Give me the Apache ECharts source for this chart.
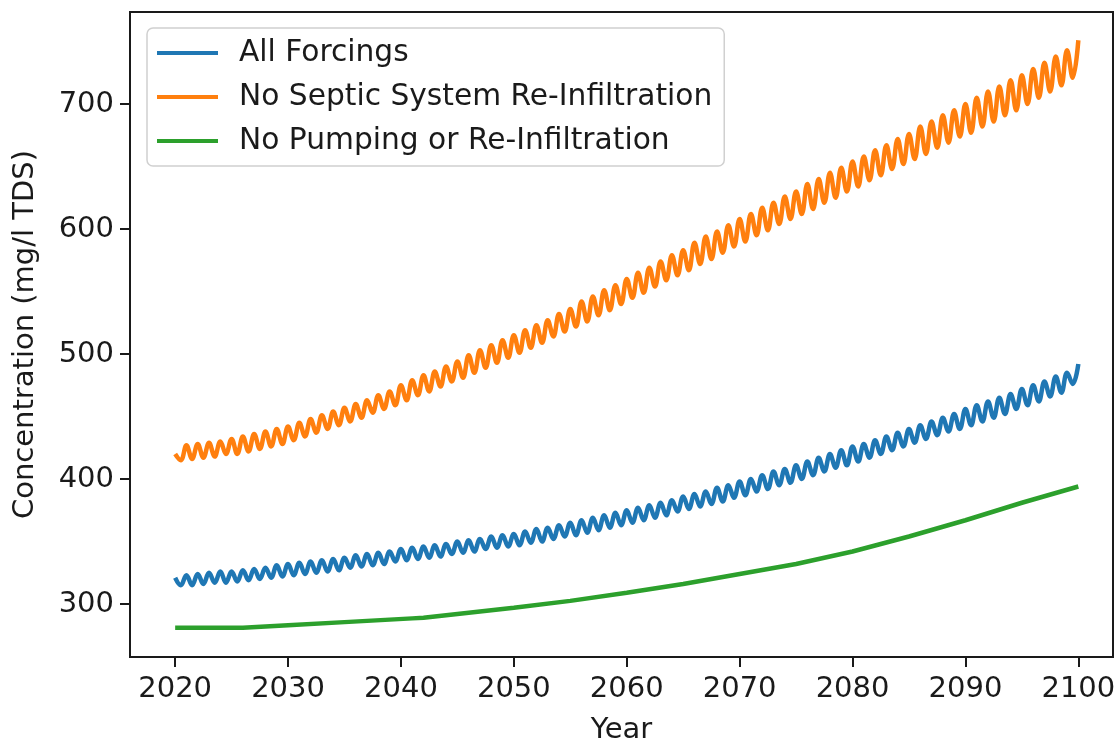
<!DOCTYPE html>
<html>
<head>
<meta charset="utf-8">
<script src="https://cdn.jsdelivr.net/npm/echarts@6/dist/echarts.min.js"></script>
<style>
  html, body { margin: 0; padding: 0; background: #ffffff; }
  #chart { width: 1117px; height: 742px; }
</style>
</head>
<body>
<div id="chart"></div>
<script>
// Simulated TDS concentration, 2020–2100. Oscillating series are stored as
// one starting value plus the yearly trough (mid-year) and peak (year end).
const xTicks = [2020, 2030, 2040, 2050, 2060, 2070, 2080, 2090, 2100];
const yTicks = [300, 400, 500, 600, 700];
const firstYear = 2020;

const allForcingsStart = 321;
const allForcingsLow = [
  315, 315, 316, 317, 317, 318, 319, 320, 321, 322,
  323, 324, 325, 326, 327, 329, 330, 331, 332, 334,
  335, 336, 337, 338, 340, 341, 342, 344, 345, 346,
  347, 349, 350, 352, 354, 355, 357, 359, 361, 363,
  365, 367, 369, 371, 374, 376, 378, 380, 382, 385,
  387, 390, 392, 395, 397, 400, 403, 406, 409, 411,
  414, 417, 420, 423, 426, 429, 432, 435, 438, 440,
  443, 446, 449, 452, 456, 459, 462, 466, 469, 476
];
const allForcingsHigh = [
  323, 324, 325, 326, 326, 327, 328, 329, 331, 332,
  333, 334, 335, 336, 337, 339, 340, 341, 342, 344,
  345, 346, 347, 348, 350, 351, 352, 354, 355, 356,
  358, 360, 361, 363, 365, 367, 369, 371, 373, 375,
  377, 379, 381, 383, 386, 388, 390, 393, 395, 398,
  400, 403, 406, 408, 411, 414, 417, 420, 423, 426,
  428, 431, 434, 437, 440, 443, 446, 449, 452, 456,
  459, 462, 465, 468, 472, 475, 478, 482, 485, 492
];

const noSepticStart = 420;
const noSepticLow = [
  415, 416, 417, 418, 420, 420, 422, 424, 426, 428,
  431, 434, 437, 440, 443, 446, 449, 453, 456, 459,
  463, 467, 470, 474, 478, 481, 485, 489, 493, 497,
  501, 505, 509, 514, 518, 522, 526, 531, 535, 540,
  545, 549, 554, 559, 563, 567, 572, 576, 581, 586,
  590, 595, 599, 604, 608, 612, 616, 621, 625, 630,
  634, 639, 643, 648, 652, 656, 660, 665, 669, 674,
  677, 682, 686, 691, 695, 700, 705, 710, 715, 721
];
const noSepticHigh = [
  427, 428, 429, 430, 432, 434, 436, 438, 440, 442,
  445, 448, 451, 454, 457, 460, 463, 467, 470, 475,
  479, 483, 486, 490, 494, 499, 503, 507, 511, 515,
  519, 523, 527, 532, 536, 542, 546, 551, 555, 560,
  565, 569, 574, 579, 583, 589, 594, 598, 603, 608,
  612, 617, 621, 626, 630, 636, 640, 645, 649, 654,
  658, 663, 667, 672, 676, 682, 686, 691, 695, 700,
  705, 710, 714, 719, 723, 728, 733, 738, 743, 751
];

const noPumpingYears = [2020, 2026, 2030, 2035, 2041, 2042, 2045, 2050, 2055, 2060, 2065, 2070, 2075, 2080, 2085, 2090, 2095, 2100];
const noPumpingValues = [281, 281, 283, 285.5, 288.5, 289, 292, 297, 302.5, 309, 316, 324, 332, 342, 354, 367, 381, 394];

function oscillating(start, lows, highs) {
  const pts = [[firstYear, start]];
  for (let i = 0; i < lows.length; i++) {
    pts.push([firstYear + i + 0.5, lows[i]]);
    pts.push([firstYear + i + 1, highs[i]]);
  }
  return pts;
}

const chart = echarts.init(document.getElementById('chart'), null, { renderer: 'canvas' });
const font = 'DejaVu Sans';
const textColor = '#1a1a1a';
const fontSize = 29;

chart.setOption({
  animation: false,
  backgroundColor: '#ffffff',
  grid: {
    left: 130, top: 12, right: 4, bottom: 85,
    containLabel: false,
    outerBoundsMode: 'none',
    show: true, borderColor: '#1a1a1a', borderWidth: 2, backgroundColor: 'transparent'
  },
  legend: {
    orient: 'vertical',
    left: 147, top: 28,
    padding: [9, 12, 9, 10],
    itemGap: 12,
    itemWidth: 61,
    itemHeight: 4,
    icon: 'rect',
    backgroundColor: 'rgba(255,255,255,0.85)',
    borderColor: '#d0d0d0',
    borderWidth: 1.5,
    borderRadius: 6,
    textStyle: { fontFamily: font, fontSize: 29.7, color: textColor, lineHeight: 32, padding: [0, 0, 0, 16] },
    data: ['All Forcings', 'No Septic System Re-Infiltration', 'No Pumping or Re-Infiltration']
  },
  xAxis: {
    type: 'value',
    min: 2016, max: 2103.07,
    name: 'Year', nameLocation: 'middle', nameGap: 59,
    nameTextStyle: { fontFamily: font, fontSize: fontSize, color: textColor },
    axisLine: { show: false },
    axisTick: { show: true, length: 10, customValues: xTicks, lineStyle: { color: '#1a1a1a', width: 2 } },
    axisLabel: {
      customValues: xTicks, fontFamily: font, fontSize: fontSize, color: textColor, margin: 18,
      formatter: (v) => String(v)
    },
    splitLine: { show: false }
  },
  yAxis: {
    type: 'value',
    min: 257.6, max: 773.6,
    name: 'Concentration (mg/l TDS)', nameLocation: 'middle', nameGap: 90,
    nameTextStyle: { fontFamily: font, fontSize: fontSize, color: textColor },
    axisLine: { show: false },
    axisTick: { show: true, length: 10, customValues: yTicks, lineStyle: { color: '#1a1a1a', width: 2 } },
    axisLabel: { customValues: yTicks, fontFamily: font, fontSize: fontSize, color: textColor, margin: 16 },
    splitLine: { show: false }
  },
  series: [
    {
      name: 'All Forcings', type: 'line', symbol: 'none', smooth: 0.4,
      color: '#1f77b4', lineStyle: { width: 4.5, color: '#1f77b4' },
      data: oscillating(allForcingsStart, allForcingsLow, allForcingsHigh)
    },
    {
      name: 'No Septic System Re-Infiltration', type: 'line', symbol: 'none', smooth: 0.4,
      color: '#ff7f0e', lineStyle: { width: 4.5, color: '#ff7f0e' },
      data: oscillating(noSepticStart, noSepticLow, noSepticHigh)
    },
    {
      name: 'No Pumping or Re-Infiltration', type: 'line', symbol: 'none',
      color: '#2ca02c', lineStyle: { width: 4.5, color: '#2ca02c' },
      data: noPumpingYears.map((y, i) => [y, noPumpingValues[i]])
    }
  ]
});
</script>
</body>
</html>
